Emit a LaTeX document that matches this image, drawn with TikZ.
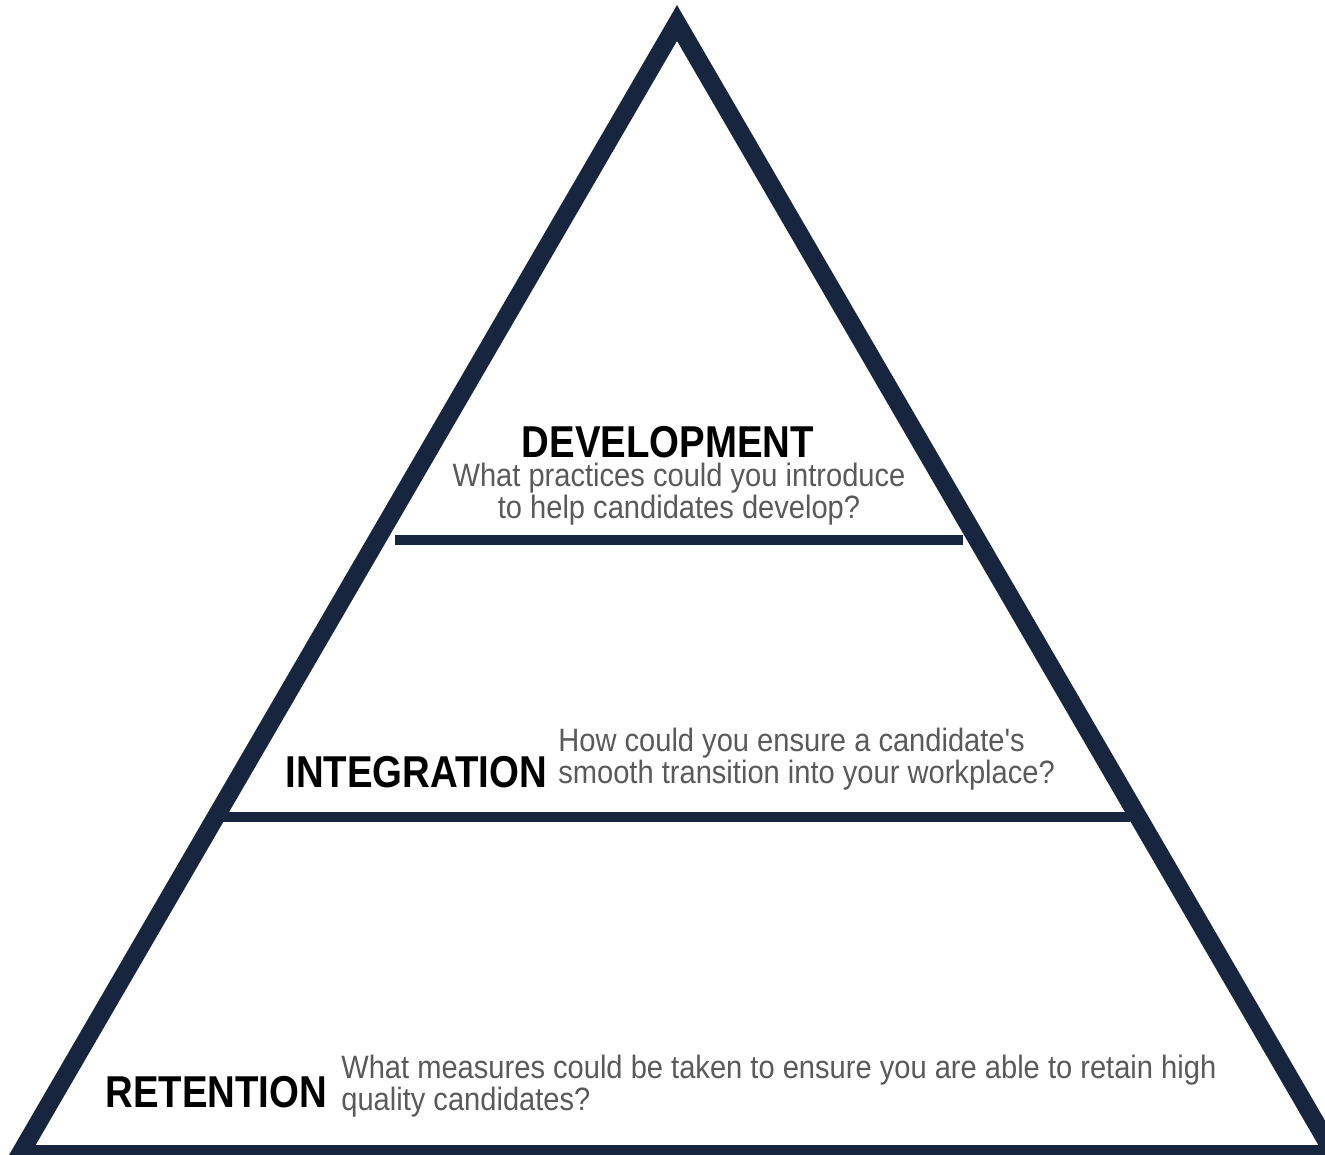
\documentclass[tikz,border=0pt]{standalone}
\usepackage{fontspec}
\usepackage{xcolor}
\newfontfamily\titlefont{Liberation Sans}[FakeStretch=0.86]
\newfontfamily\askfont{Liberation Sans}[FakeStretch=0.9]
\definecolor{navy}{HTML}{17253F}
\definecolor{askgray}{HTML}{5A5A5A}

\begin{document}
\begin{tikzpicture}
[x=0.02cm,y=-0.02cm,
 edge/.style={draw=navy,line width=0.36cm,line join=miter},
 rule/.style={draw=navy,line width=0.2cm},
 title/.style={inner sep=0,font=\titlefont\bfseries\fontsize{25.4pt}{25.4pt}\selectfont,text=black},
 ask/.style={inner sep=0,font=\askfont\fontsize{18.4pt}{15.9pt}\selectfont,text=askgray}]

  \fill[white] (0,0) rectangle (1325,1155);
  \useasboundingbox (0,0) rectangle (1325,1155);

  \coordinate (apex) at (677,23);
  \coordinate (bl) at (20,1154);
  \coordinate (br) at (1334,1154);
  \draw[edge] (apex) -- (bl) -- (br) -- cycle;

  \coordinate (r1l) at (395,540);
  \coordinate (r1r) at (963,540);
  \coordinate (r2l) at (222,817);
  \coordinate (r2r) at (1130,817);
  \foreach \from/\to in {r1l/r1r,r2l/r2r}
    \draw[rule] (\from) -- (\to);

  % base anchor of the two-line texts is their last line
  \node (dev) at (668,457) [title,anchor=base] {DEVELOPMENT};
  \node (devask) at (679,518) [ask,anchor=base,align=center]
    {What practices could you introduce\\to help candidates develop?};

  \node (int) at (285,787) [title,anchor=base west] {INTEGRATION};
  \node (intask) at (558,783) [ask,anchor=base west,align=left]
    {How could you ensure a candidate's\\smooth transition into your workplace?};

  \node (ret) at (105,1107) [title,anchor=base west] {RETENTION};
  \node (retask) at (341,1110) [ask,anchor=base west,align=left]
    {What measures could be taken to ensure you are able to retain high\\quality candidates?};
\end{tikzpicture}
\end{document}
